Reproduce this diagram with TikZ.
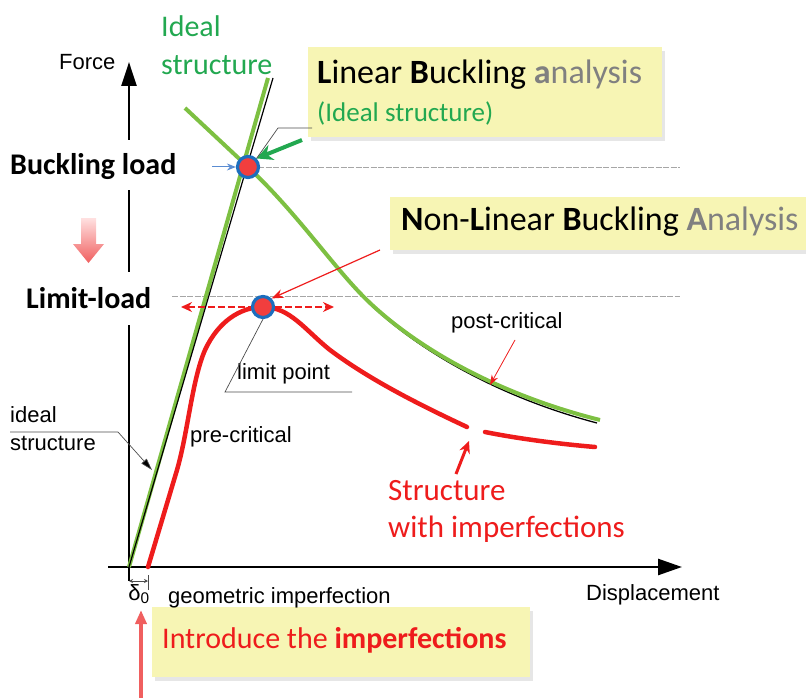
\documentclass[tikz,border=0pt]{standalone}
\usepackage{fontspec}
\setmainfont{Carlito}
\newfontfamily\arialf{Liberation Sans}
\usetikzlibrary{arrows.meta,shadows,calc}
\definecolor{gline}{RGB}{125,192,66}
\definecolor{gtext}{RGB}{34,168,80}
\definecolor{rline}{RGB}{238,28,28}
\definecolor{rpink}{RGB}{240,95,95}
\definecolor{ybox}{RGB}{247,245,180}
\definecolor{bring}{RGB}{28,110,190}
\definecolor{gtxt}{RGB}{128,128,128}
\definecolor{bluearr}{RGB}{90,140,210}
\tikzset{
  ybx/.style={fill=ybox,draw=none,inner sep=0pt,drop shadow={opacity=0.2,shadow xshift=3pt,shadow yshift=-4pt}},
  ar/.style={font=\arialf\fontsize{22}{26}\selectfont,inner sep=0pt},
  cal/.style={inner sep=0pt},
  guide/.style={draw=gray!70,line width=0.8pt,dash pattern=on 6pt off 1.5pt},
  ptc/.style={circle,draw=bring,line width=3.2pt,fill=rline!85!white,minimum size=21pt,inner sep=0pt},
  leader/.style={draw=gray!60!black,line width=0.7pt},
  rdash/.style={rline,line width=1.8pt,dash pattern=on 7pt off 3pt}
}
\begin{document}
\begin{tikzpicture}[x=1pt,y=-1pt]
\useasboundingbox (0,0) rectangle (806,698);
% yellow boxes
\node[ybx,minimum width=354pt,minimum height=90pt] (box1) at (485,92) {};
\node[ybx,minimum width=420pt,minimum height=53pt] (box2) at (600,223.5) {};
\node[ybx,minimum width=378pt,minimum height=70pt] (box3) at (341,642) {};
% axes
\coordinate (O) at (129,567);
\coordinate (ytip) at (129,62);
\coordinate (xtip) at (682,567);
\draw[line width=2.6pt,-{Triangle[length=24pt,width=15pt]}] (129,140) -- (ytip);
\draw[line width=2.6pt] (129,190) -- (129,272);
\draw[line width=2.6pt] (129,325) -- (129,581);
\draw[line width=2.6pt,-{Triangle[length=24pt,width=16pt]}] (108,567) -- (xtip);
% guide lines
\coordinate (bl1) at (258,167); \coordinate (bl2) at (680,167);
\coordinate (ll1) at (172,296); \coordinate (ll2) at (680,296);
\draw[guide] (bl1) -- (bl2);
\draw[guide] (ll1) -- (ll2);
% ideal structure lines
\coordinate (gtop) at (268,78);
\coordinate (ktop) at (273,78);
\draw[gline,line width=4pt] (O) -- (gtop);
\draw[black,line width=1.2pt] (O) -- (ktop);
\draw[black,line width=1.3pt] (250,170) .. controls (302,219) and (337,273) .. (372,306) .. controls (422,353) and (502,398) .. (597,423);
\draw[gline,line width=4pt] (185,108) -- (248,167) .. controls (300,216) and (335,270) .. (370,303) .. controls (420,350) and (500,395) .. (600,420);
% imperfect structure
\draw[rline,line width=4.5pt,line cap=round] (148,567) -- (177,470) .. controls (188,432) and (192,380) .. (205,350) .. controls (218,322) and (240,307) .. (263,307) .. controls (290,307) and (305,330) .. (330,350) .. controls (370,380) and (420,405) .. (467,427);
\draw[rline,line width=4.5pt,line cap=round] (485,432) .. controls (520,439) and (560,444) .. (595,447);
% points
\node[ptc] (bp) at (248,167) {};
\node[ptc] (lp) at (263,307) {};
% arrows to points
\coordinate (bfrom) at (212,167);
\draw[bluearr,line width=1pt,-{Stealth[length=9pt,width=7pt]}] (bfrom) -- (bp.west);
\coordinate (gfrom) at (302,140);
\draw[gtext,line width=4pt,-{Stealth[length=16pt,width=16pt]}] (gfrom) -- (bp.north east);
\coordinate (ld1) at (278,128); \coordinate (ld2) at (312,128);
\draw[leader] (bp.north east) -- (ld1) -- (ld2);
\coordinate (nlfrom) at (380,250);
\draw[rline,line width=1.2pt,-{Stealth[length=12pt,width=9pt]}] (nlfrom) -- (lp.north east);
\coordinate (da1) at (181,307); \coordinate (da2) at (334,307);
\draw[rdash,{Stealth[length=11pt,width=10pt,open]}-] (da1) -- (lp.west);
\draw[rdash,-{Stealth[length=11pt,width=10pt,open]}] (lp.east) -- (da2);
% labels
\node[ar,anchor=west] (force) at (59,62) {Force};
\node[cal,anchor=west,align=left,text=gtext,font=\fontsize{30}{38}\selectfont] (idealtop) at (161,45) {Ideal\\structure};
\node[cal,anchor=west,font=\fontsize{34}{40}\selectfont] (lba) at (317,75) {\textbf{L}inear \textbf{B}uckling \textcolor{gtxt}{\textbf{a}nalysis}};
\node[cal,anchor=west,text=gtext,font=\fontsize{27}{32}\selectfont] (lbai) at (317,113) {(Ideal structure)};
\node[cal,anchor=west,font=\bfseries\fontsize{30}{36}\selectfont] (bload) at (10,167) {Buckling load};
\node[cal,anchor=west,font=\bfseries\fontsize{30}{36}\selectfont] (lload) at (26,298) {Limit-load};
\node[cal,anchor=west,font=\fontsize{34}{40}\selectfont] (nlba) at (401,222) {\textbf{N}on-\textbf{L}inear \textbf{B}uckling \textcolor{gtxt}{\textbf{A}nalysis}};
% down arrow between load labels
\shade[top color=red!12,bottom color=rpink] (81,218) -- (96,218) -- (96,244) -- (104,244) -- (88.5,263) -- (73,244) -- (81,244) -- cycle;
% limit point leader
\node[ar,anchor=west] (lpl) at (237,374) {limit point};
\coordinate (lpa) at (225,392); \coordinate (lpb) at (352,392);
\draw[leader] (lp.south) -- (lpa) -- (lpb);
\node[ar,anchor=west] (pre) at (190,437) {pre-critical};
\node[ar,anchor=west] (post) at (451,323) {post-critical};
\coordinate (postfrom) at (515,340);
\coordinate (posttip) at (490,385);
\draw[rline,line width=0.8pt,-{Stealth[length=10pt,width=7pt]}] (postfrom) -- (posttip);
\node[ar,anchor=west,align=left,font=\arialf\fontsize{22}{28}\selectfont] (idl) at (10,429) {ideal\\structure};
\coordinate (il1) at (10,432); \coordinate (il2) at (118,432); \coordinate (iltip) at (152,470);
\draw[leader,-{Triangle[length=12pt,width=7pt,fill=black]}] (il1) -- (il2) -- (iltip);
\node[cal,anchor=west,align=left,text=rline,font=\fontsize{31}{37}\selectfont] (swi) at (388,511) {Structure\\with imperfections};
\coordinate (swfrom) at (456,474);
\coordinate (swtip) at (469,441);
\draw[rline,line width=3pt,-{Stealth[length=12pt,width=11pt]}] (swfrom) -- (swtip);
% x-axis labels
\node[ar,anchor=west] (geo) at (168,598) {geometric imperfection};
\node[ar,anchor=west] (disp) at (586,595) {Displacement};
\coordinate (d2a) at (148,575); \coordinate (d2b) at (148,590);
\draw[leader] (d2a) -- (d2b);
\coordinate (dl) at (129,581); \coordinate (dr) at (148,581);
\draw[leader,{Stealth[length=4pt,width=4pt]}-{Stealth[length=4pt,width=4pt]}] (dl) -- (dr);
\node[ar,anchor=center] (delta) at (139,594) {δ\textsubscript{0}};
% introduce imperfections
\node[cal,anchor=west,text=rline,font=\fontsize{30}{36}\selectfont] (intro) at (162,640) {Introduce the \textbf{imperfections}};
\coordinate (ia) at (141,698); \coordinate (ib) at (141,610);
\draw[rpink,line width=3.5pt,-{Triangle[length=14pt,width=11pt]}] (ia) -- (ib);
\end{tikzpicture}
\end{document}
